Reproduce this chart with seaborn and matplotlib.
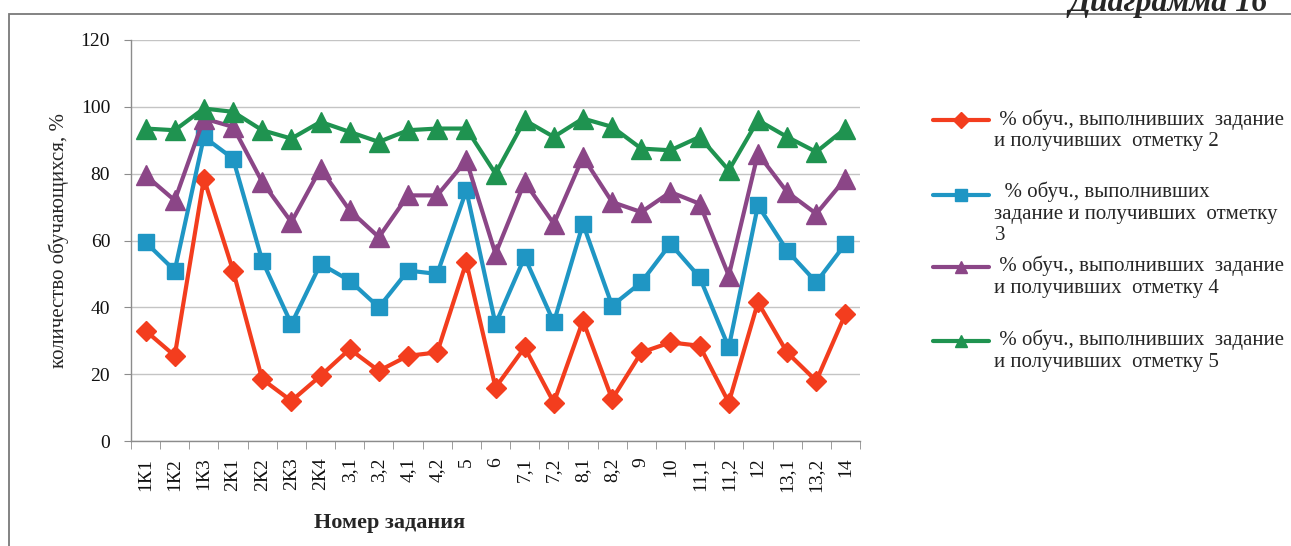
import numpy as np
import matplotlib
matplotlib.use("Agg")
import matplotlib.pyplot as plt
import seaborn as sns
from matplotlib.lines import Line2D
from matplotlib.legend_handler import HandlerLine2D
from matplotlib.patches import Rectangle

# task numbers on the x axis
tasks = ["1К1", "1К2", "1К3", "2К1", "2К2", "2К3", "2К4", "3,1", "3,2", "4,1",
         "4,2", "5", "6", "7,1", "7,2", "8,1", "8,2", "9", "10", "11,1",
         "11,2", "12", "13,1", "13,2", "14"]

# % of students per grade
mark2 = [33, 25.5, 78.5, 51, 18.5, 12, 19.5, 27.5, 21, 25.5, 26.5, 53.5, 16, 28,
         11.5, 36, 12.5, 26.5, 29.5, 28.5, 11.5, 41.5, 26.5, 18, 38]
mark3 = [59.5, 51, 91, 84.5, 54, 35, 53, 48, 40, 51, 50, 75, 35, 55, 35.5, 65,
         40.5, 47.5, 59, 49, 28, 70.5, 57, 47.5, 59]
mark4 = [79.5, 72, 96.5, 94, 77.5, 65.5, 81.5, 69, 61, 73.5, 73.5, 84, 56, 77.5,
         65, 85, 71.5, 68.5, 74.5, 71, 49.5, 86, 74.5, 68, 78.5]
mark5 = [93.5, 93, 99.5, 98.5, 93, 90.5, 95.5, 92.5, 89.5, 93, 93.5, 93.5, 80, 96,
         91, 96.5, 94, 87.5, 87, 91, 81, 96, 91, 86.5, 93.5]

labels = [" % обуч., выполнивших  задание\nи получивших  отметку 2",
          "  % обуч., выполнивших\nзадание и получивших  отметку\n3",
          " % обуч., выполнивших  задание\nи получивших  отметку 4",
          " % обуч., выполнивших  задание\nи получивших  отметку 5"]
colors = ["#f33d1e", "#1f96c4", "#8b4687", "#1f9350"]
markers = ["D", "s", "^", "^"]
msizes = [10, 12, 14, 14]

sns.set_style("white")
plt.rcParams["font.family"] = ["Liberation Serif", "DejaVu Serif"]


class TopAlignedHandler(HandlerLine2D):
    """Put the legend line next to the first text line, not the middle."""
    def __init__(self, shift, **kw):
        super().__init__(**kw)
        self.shift = shift

    def create_artists(self, legend, orig_handle, xdescent, ydescent,
                       width, height, fontsize, trans):
        arts = super().create_artists(legend, orig_handle, xdescent, ydescent,
                                      width, height, fontsize, trans)
        for a in arts:
            a.set_ydata(np.asarray(a.get_ydata()) + self.shift)
        return arts


W, H = 1291, 546
fig = plt.figure(figsize=(W / 100, H / 100), dpi=100)
ax = fig.add_axes([131 / W, 1 - 441 / H, (860 - 131) / W, (441 - 40) / H])

series = [mark2, mark3, mark4, mark5]
for vals, c, m, ms in zip(series, colors, markers, msizes):
    sns.lineplot(x=tasks, y=vals, ax=ax, color=c, marker=m, markersize=ms,
                 markeredgecolor=c, markeredgewidth=1, linewidth=3,
                 sort=False, legend=False)

ax.set_xlim(-0.5, len(tasks) - 0.5)
ax.set_ylim(0, 120)
ax.set_yticks(np.arange(0, 121, 20))
ax.set_xticks(np.arange(-0.5, len(tasks)), minor=True)
ax.yaxis.grid(True, color="#c4c4c4", linewidth=1)
ax.xaxis.grid(False)
ax.set_axisbelow(True)
for s in ["top", "right"]:
    ax.spines[s].set_visible(False)
for s in ["left", "bottom"]:
    ax.spines[s].set_color("#8c8c8c")
    ax.spines[s].set_linewidth(1)

ax.tick_params(axis="y", left=True, length=5, color="#8c8c8c", pad=10,
               labelsize=14, labelcolor="#111111")
ax.tick_params(axis="x", which="major", bottom=True, length=0, pad=12,
               labelsize=14, labelrotation=90, labelcolor="#111111")
ax.tick_params(axis="x", which="minor", bottom=True, length=6, color="#8c8c8c")

ax.set_ylabel("количество обучающихся, %", fontsize=15)
ax.yaxis.set_label_coords((59 - 131) / 729, 0.5)
ax.set_xlabel("Номер задания", fontsize=16, fontweight="bold")
ax.xaxis.set_label_coords((390 - 131) / 729, -(523 - 441) / 401)
ax.xaxis.label.set_va("center")
ax.yaxis.label.set_va("center")

# legend, one block per series
legend_tops = [109, 182, 256, 330]
for lab, c, m, top in zip(labels, colors, markers, legend_tops):
    nlines = lab.count("\n") + 1
    h = Line2D([], [], color=c, marker=m, markersize=8, linewidth=3)
    leg = fig.legend(handles=[h], labels=[lab], loc="upper left",
                     bbox_to_anchor=(933 / W, 1 - top / H), frameon=False,
                     fontsize=15, handlelength=2.7, handletextpad=0.25,
                     borderpad=0, borderaxespad=0,
                     handler_map={h: TopAlignedHandler((nlines - 1) * 6.6)})
    for t in leg.get_texts():
        t.set_linespacing(1.15)

# outer frame and caption
fig.patches.append(Rectangle((9 / W, -0.1), 1.2, 1.1 - 14 / H,
                             transform=fig.transFigure, fill=False,
                             edgecolor="#7a7a7a", linewidth=1.3))
fig.text(1268 / W, 1 - 11 / H, "Диаграмма 16", ha="right", va="baseline",
         fontsize=23, fontweight="bold", style="italic")

fig.savefig("out.png", dpi=100)
